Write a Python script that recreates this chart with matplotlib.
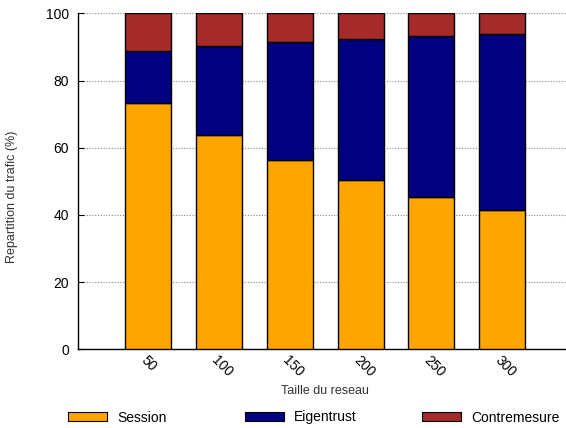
import numpy as np
import matplotlib
matplotlib.use('Agg')
import matplotlib.pyplot as plt
import matplotlib.transforms as mtransforms
from matplotlib.patches import Rectangle

plt.rcParams['font.family'] = ['Liberation Sans', 'DejaVu Sans']

tailles = ['50', '100', '150', '200', '250', '300']
session = [73.4, 63.7, 56.2, 50.3, 45.4, 41.6]
eigentrust = [15.5, 26.7, 35.4, 42.2, 47.8, 52.2]
contremesure = [11.1, 9.6, 8.4, 7.5, 6.8, 6.2]

c_session = '#ffa500'
c_eigen = '#000080'
c_contre = '#a52a2a'

fig = plt.figure(figsize=(5.66, 4.28), dpi=100)
W, H = 566.0, 428.0
ax = fig.add_axes([77.5 / W, 1 - 349.3 / H, 1 - 77.5 / W, (349.3 - 13.3) / H])

x = np.arange(len(tailles))
session = np.array(session)
eigentrust = np.array(eigentrust)
contremesure = np.array(contremesure)
w = 0.65
ax.bar(x, session, w, color=c_session, edgecolor='black', linewidth=1, zorder=3)
ax.bar(x, eigentrust, w, bottom=session, color=c_eigen, edgecolor='black', linewidth=1, zorder=3)
ax.bar(x, contremesure, w, bottom=session + eigentrust, color=c_contre,
       edgecolor='black', linewidth=1, zorder=3)

ax.set_xlim(-1, 5.9)
ax.set_ylim(0, 100)
ax.set_yticks([0, 20, 40, 60, 80, 100])
ax.set_xticks(x)
ax.set_xticklabels(tailles, rotation=-45, ha='left', va='top', rotation_mode='anchor', fontsize=10)
shift = mtransforms.ScaledTranslation(3 / 100, 0, fig.dpi_scale_trans)
for lbl in ax.get_xticklabels():
    lbl.set_transform(lbl.get_transform() + shift)
ax.tick_params(axis='y', labelsize=10, direction='in', length=4, pad=6)
ax.tick_params(axis='x', length=0, pad=3)
for y in [20, 40, 60, 80, 100]:
    ax.axhline(y, color='#888888', linestyle=(0, (1, 1.5)), linewidth=0.8, zorder=1)
for s in ['top', 'right']:
    ax.spines[s].set_visible(False)
ax.spines['left'].set_linewidth(1)
ax.spines['bottom'].set_linewidth(1)

ax.set_xlabel('Taille du reseau', fontsize=9, color='#333333')
ax.xaxis.set_label_coords((325 - 77.5) / 488.5, (349.3 - 385) / 336)
ax.set_ylabel('Repartition du trafic (%)', fontsize=9, color='#333333')
ax.yaxis.set_label_coords((18 - 77.5) / 488.5, (349.3 - 197) / 336)

# legende en bas, colonnes a largeur fixe comme gnuplot
labels = ['Session', 'Eigentrust', 'Contremesure']
colors = [c_session, c_eigen, c_contre]
starts = [68, 245, 422]
for lab, col, x0 in zip(labels, colors, starts):
    fig.add_artist(Rectangle((x0 / W, 1 - 421 / H), 39 / W, 9 / H, transform=fig.transFigure,
                             facecolor=col, edgecolor='black', linewidth=0.8))
    fig.text((x0 + 49) / W, 1 - 421.5 / H, lab, fontsize=10, va='baseline', ha='left')

fig.savefig('out.png', dpi=100)
